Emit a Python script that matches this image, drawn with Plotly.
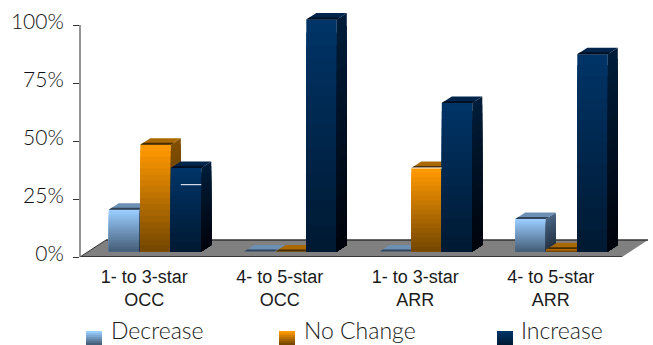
import plotly.graph_objects as go

# Survey shares per hotel segment and metric, in percent
categories = ["1- to 3-star<br>OCC", "4- to 5-star<br>OCC", "1- to 3-star<br>ARR", "4- to 5-star<br>ARR"]
decrease = [18, 0, 0, 14]
no_change = [46, 0, 36, 1]
increase = [36, 100, 64, 85]
y_ticks = [0, 25, 50, 75, 100]
y_tick_labels = ["0%", "25%", "50%", "75%", "100%"]

W, H = 653, 345
L, R, T, B = 80, 0, 10, 88
PX_X = 1 / 135.5          # axis units per horizontal pixel
PX_Y = 100 / 232          # axis units per vertical pixel
BASE = 5.5 * PX_Y         # front plane of the bars sits above the axis zero
DX, DY = 10 * PX_X, 6.5 * PX_Y   # extrusion of the fake 3D depth
BAR_W = 30.5 * PX_X
STEPS = 18
X_MAX = -0.5 + (W - L) * PX_X


def mix(c1, c2, t):
    return "rgb(%d,%d,%d)" % tuple(round(a + (b - a) * t) for a, b in zip(c1, c2))


series = [
    dict(name="Decrease", values=decrease, offset=-0.288, z=1,
         front=((153, 204, 255), (70, 96, 122)), side=((72, 100, 130), (36, 50, 66)),
         top=(108, 143, 180), edge=(52, 68, 88)),
    dict(name="No Change", values=no_change, offset=-0.055, z=2,
         front=((255, 153, 0), (118, 72, 0)), side=((128, 78, 0), (72, 44, 0)),
         top=(170, 105, 0), edge=(70, 44, 0)),
    dict(name="Increase", values=increase, offset=0.17, z=3,
         front=((0, 51, 102), (0, 26, 51)), side=((0, 28, 56), (0, 4, 12)),
         top=(0, 36, 74), edge=(0, 16, 34)),
]

fig = go.Figure()

for s in series:
    # Gradients are painted tallest slice first, so shorter slices overlay them
    for k in range(STEPS):
        t = k / (STEPS - 1)
        frac = 1 - k / STEPS
        fig.add_trace(go.Bar(
            x=list(range(4)), y=[v * frac for v in s["values"]], base=BASE,
            width=BAR_W, offset=s["offset"], showlegend=False, hoverinfo="skip",
            name=s["name"], marker=dict(color=mix(*s["front"], t), line_width=0), zorder=s["z"],
        ))
        xs, ys = [], []
        for i, v in enumerate(s["values"]):
            if v <= 0:
                continue
            x1 = i + s["offset"] + BAR_W
            h = BASE + v * frac
            xs += [x1, x1 + DX, x1 + DX, x1, None]
            ys += [BASE, BASE + DY, h + DY, h, None]
        fig.add_trace(go.Scatter(
            x=xs, y=ys, mode="none", fill="toself", fillcolor=mix(*s["side"], t),
            showlegend=False, hoverinfo="skip", zorder=s["z"],
        ))
    # Top faces: lit back portion and a shaded strip along the front edge
    for color, a, b in ((s["top"], 0.0, 1.0), (s["edge"], 0.0, 0.3)):
        xs, ys = [], []
        for i, v in enumerate(s["values"]):
            x0 = i + s["offset"]
            h = BASE + v
            xs += [x0 + a * DX, x0 + BAR_W + a * DX, x0 + BAR_W + b * DX, x0 + b * DX, None]
            ys += [h + a * DY, h + a * DY, h + b * DY, h + b * DY, None]
        fig.add_trace(go.Scatter(
            x=xs, y=ys, mode="none", fill="toself", fillcolor=mix(color, color, 0),
            showlegend=False, hoverinfo="skip", zorder=s["z"],
        ))

shapes = [
    # Floor of the 3D plot area
    dict(type="path", layer="below", xref="x", yref="y",
         path=f"M -0.5 0 L {-0.5 + 26 * PX_X} {17 * PX_Y} L {3.5 + 26 * PX_X} {17 * PX_Y} L 3.5 0 Z",
         fillcolor="#808080", line=dict(width=0)),
    dict(type="line", layer="below", xref="x", yref="y", x0=-0.5, x1=3.5, y0=0, y1=0,
         line=dict(color="#222222", width=1.5)),
    dict(type="line", layer="below", xref="x", yref="y", x0=-0.5 + 26 * PX_X, x1=3.5 + 26 * PX_X,
         y0=17 * PX_Y, y1=17 * PX_Y, line=dict(color="#333333", width=1.5)),
    dict(type="line", layer="below", xref="x", yref="y", x0=-0.5, x1=-0.5 + 26 * PX_X,
         y0=0, y1=17 * PX_Y, line=dict(color="#333333", width=1)),
    # Value axis, running a little below zero
    dict(type="line", layer="above", xref="paper", yref="y", x0=0, x1=0, y0=-5 * PX_Y, y1=100,
         line=dict(color="#707070", width=1.5)),
    # Thin highlights along the seams of the first and third groups
    dict(type="line", layer="above", xref="x", yref="y", x0=0.17 + 10 * PX_X, x1=0.17 + BAR_W,
         y0=BASE + 28.8, y1=BASE + 28.8, line=dict(color="white", width=1)),
    dict(type="line", layer="above", xref="x", yref="y", x0=2 - 0.055, x1=2 + 0.17,
         y0=BASE + 36, y1=BASE + 36, line=dict(color="white", width=1)),
]

annotations = []
plot_w, plot_h = W - L - R, H - T - B


def px(x):
    return (x - L) / plot_w


def py(y):
    return (H - B - y) / plot_h


legend_x = [(86, 110), (279, 303), (497, 520)]
for s, (sx, tx) in zip(series, legend_x):
    for k in range(7):
        t = k / 6
        shapes.append(dict(type="rect", xref="paper", yref="paper", x0=px(sx), x1=px(sx + 16),
                           y0=py(331 + 2 * k), y1=py(331 + 2 * (k + 1)),
                           fillcolor=mix(*s["front"], t), line=dict(width=0)))
    annotations.append(dict(text=s["name"], xref="paper", yref="paper", x=px(tx), y=py(345),
                            xanchor="left", yanchor="bottom", showarrow=False, borderpad=0,
                            font=dict(family="Lato", size=23, color="#1a1a1a", weight=300)))

fig.update_layout(
    width=W, height=H, margin=dict(l=L, r=R, t=T, b=B, autoexpand=False),
    paper_bgcolor="white", plot_bgcolor="white", barmode="overlay", showlegend=False,
    shapes=shapes, annotations=annotations,
    xaxis=dict(range=[-0.5, X_MAX], tickvals=[i - 0.026 for i in range(4)], ticktext=categories,
               showgrid=False, zeroline=False, showline=False, ticks="", ticklabelstandoff=7,
               tickfont=dict(family="Liberation Sans", size=18, color="#1a1a1a")),
    yaxis=dict(range=[0, (H - B - T) * PX_Y], tickvals=y_ticks, ticktext=y_tick_labels,
               showgrid=False, zeroline=False, showline=False, ticks="outside", ticklen=6,
               tickcolor="#333333", tickwidth=1, ticklabelstandoff=5, ticklabelshift=-3,
               tickfont=dict(family="Lato", size=21, color="#111111", weight=300)),
)

fig.write_html("out.html", config=dict(displayModeBar=False))
